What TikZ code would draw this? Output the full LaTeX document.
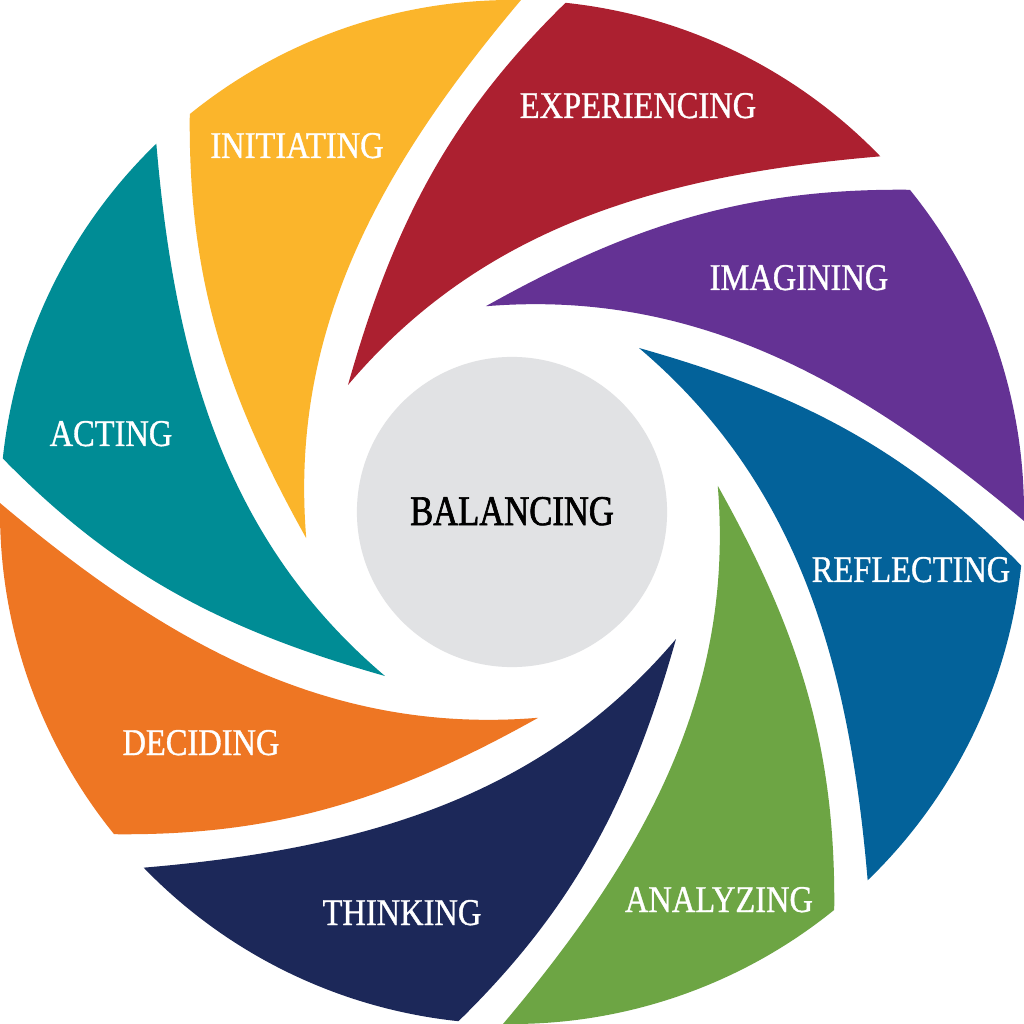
\documentclass[tikz,border=0pt]{standalone}
\usepackage{fontspec}
\setmainfont[FakeStretch=0.86, FakeBold=0.9]{Liberation Serif}
\newfontfamily\balfont[FakeStretch=0.82, FakeBold=1.6]{Liberation Serif}
\definecolor{cRed}{HTML}{AC2030}
\definecolor{cPurple}{HTML}{643294}
\definecolor{cBlue}{HTML}{03629A}
\definecolor{cGreen}{HTML}{6DA544}
\definecolor{cNavy}{HTML}{1C2859}
\definecolor{cOrange}{HTML}{EE7623}
\definecolor{cTeal}{HTML}{008C95}
\definecolor{cYellow}{HTML}{FBB52B}
\definecolor{cHub}{HTML}{E1E2E4}
\tikzset{
  blade/.style={fill=#1},
  lbl/.style={text=white, font=\fontsize{10.74pt}{12pt}\selectfont, anchor=base, inner sep=0pt},
}
\begin{document}
\begin{tikzpicture}[x=0.01cm, y=0.01cm]
\useasboundingbox[fill=white] (-512,-512) rectangle (512,512);
\foreach \ang/\col in {0/cRed, -45/cPurple, -90/cBlue, -135/cGreen, -180/cNavy, -225/cOrange, -270/cTeal, -315/cYellow}{
  \fill[blade=\col, rotate=\ang] (84:512) arc[start angle=84, end angle=44, radius=512]
    .. controls (148,337) and (-30,285) .. (-164,127)
    .. controls (-118,290) and (-61,397) .. cycle;
}
\node[circle, fill=cHub, minimum size=3.1cm, inner sep=0pt] (hub) at (0,0) {};
\node[anchor=base, inner sep=0pt, font=\balfont\fontsize{12pt}{14pt}\selectfont] (bal) at (0,-13) {BALANCING};
\node[lbl] (ini) at (-215,354) {INITIATING};
\node[lbl] (exp) at (126,394) {EXPERIENCING};
\node[lbl] (ima) at (287,222) {IMAGINING};
\node[lbl] (ref) at (399,-70) {REFLECTING};
\node[lbl] (ana) at (207,-400) {ANALYZING};
\node[lbl] (thi) at (-110,-413) {THINKING};
\node[lbl] (dec) at (-311,-243) {DECIDING};
\node[lbl] (act) at (-401,66) {ACTING};
\end{tikzpicture}
\end{document}
